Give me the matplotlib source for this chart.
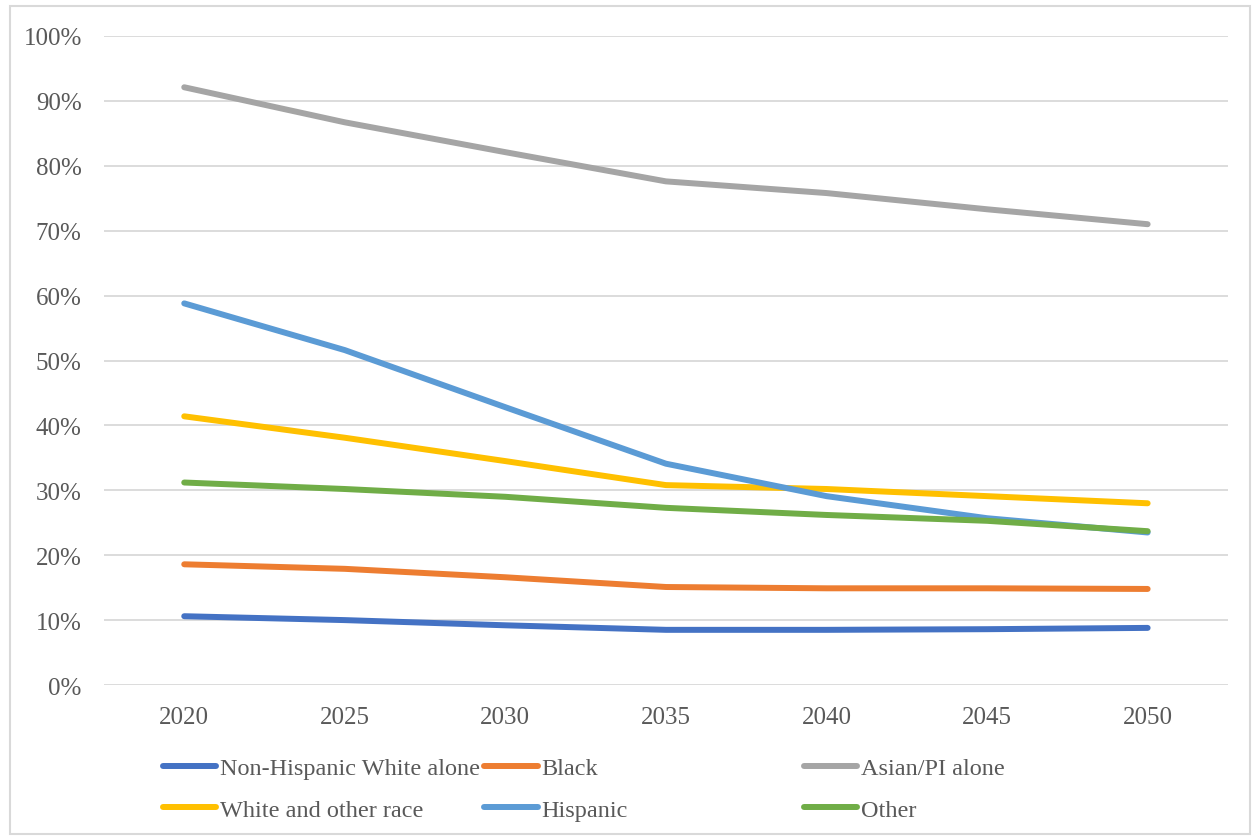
import numpy as np
import matplotlib.pyplot as plt
from matplotlib.patches import Rectangle

plt.rcParams['font.family'] = ['Liberation Serif', 'DejaVu Serif']

years = ['2020', '2025', '2030', '2035', '2040', '2045', '2050']

nh_white = [10.6, 10.0, 9.2, 8.5, 8.5, 8.6, 8.8]
black = [18.6, 17.9, 16.6, 15.1, 14.9, 14.9, 14.8]
asian_pi = [92.1, 86.7, 82.1, 77.6, 75.8, 73.3, 71.0]
white_other = [41.4, 38.1, 34.5, 30.8, 30.2, 29.1, 28.0]
hispanic = [58.8, 51.6, 42.8, 34.1, 29.1, 25.7, 23.5]
other = [31.2, 30.2, 29.0, 27.3, 26.2, 25.3, 23.7]

names = ['Non-Hispanic White alone', 'Black', 'Asian/PI alone',
         'White and other race', 'Hispanic', 'Other']
series = [nh_white, black, asian_pi, white_other, hispanic, other]
colors = ['#4472C4', '#ED7D31', '#A5A5A5', '#FFC000', '#5B9BD5', '#70AD47']

txt = '#595959'
grid = '#D9D9D9'

fig = plt.figure(figsize=(12.54, 8.37), dpi=100)
ax = fig.add_axes([0.0829, 0.1804, 0.8963, 0.7754])

x = np.arange(len(years))
lines = []
for vals, name, c in zip(series, names, colors):
    ln, = ax.plot(x, vals, color=c, lw=4.3, solid_capstyle='round',
                  solid_joinstyle='round', label=name)
    lines.append(ln)

ax.set_xlim(-0.5, len(years) - 0.5)
ax.set_ylim(0, 100)
ax.set_yticks(np.arange(0, 101, 10))
ax.set_yticklabels([f'{v}%' for v in range(0, 101, 10)])
ax.set_xticks(x)
ax.set_xticklabels(years)
ax.yaxis.grid(True, color=grid, lw=1.3)
ax.set_axisbelow(True)
for s in ax.spines.values():
    s.set_visible(False)
ax.tick_params(axis='both', length=0, labelsize=18, colors=txt)
ax.tick_params(axis='y', pad=16)
ax.tick_params(axis='x', pad=15)

# legend: three columns of two rows each
col_x = [0.130, 0.386, 0.641]
for i, cx in enumerate(col_x):
    leg = fig.legend([lines[i], lines[i + 3]], [names[i], names[i + 3]],
                     loc='upper left', bbox_to_anchor=(cx, 0.094),
                     frameon=False, fontsize=17.5, handlelength=2.2,
                     handletextpad=0.15, labelspacing=0.8,
                     borderaxespad=0, borderpad=0)
    for t in leg.get_texts():
        t.set_color(txt)

fig.add_artist(Rectangle((0.008, 0.002), 0.989, 0.99, transform=fig.transFigure,
                         fill=False, edgecolor=grid, lw=1.5))

fig.savefig('out.png', dpi=100)
